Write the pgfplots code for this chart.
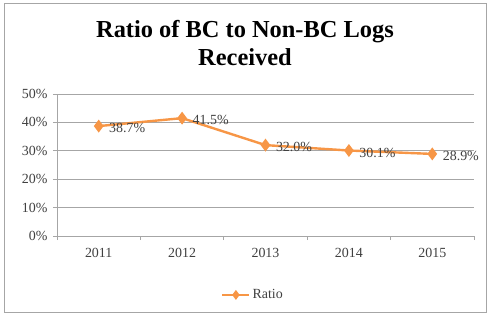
\documentclass[border=0pt]{standalone}
\usepackage{pgfplots}
\pgfplotsset{compat=1.18}
\usepackage{pgfplotstable}
\usepackage{fontspec}
\setmainfont{Liberation Serif}
\definecolor{ratio}{HTML}{F79646}
\definecolor{gridc}{HTML}{A6A6A6}
\definecolor{txt}{HTML}{404040}
\pgfplotstableread{
x y lab
0 38.7 38.7\%
1 41.5 41.5\%
2 32.0 32.0\%
3 30.1 30.1\%
4 28.9 28.9\%
}\ratiodata
\begin{document}
\begin{tikzpicture}
\path[use as bounding box] (-57bp,-80bp) rectangle (433bp,236bp);
\draw[gridc, line width=0.8bp] (-53bp,-76bp) rectangle (429bp,233bp);
\node[font=\fontsize{24.5}{28}\selectfont\bfseries, align=center, text=black] at (188bp,193bp) {Ratio of BC to Non-BC Logs\\Received};
\begin{axis}[
  at={(0,0)}, anchor=south west,
  scale only axis,
  width=417bp, height=142bp,
  xmin=-0.5, xmax=4.5, ymin=0, ymax=50,
  xtick={0,1,2,3,4},
  xticklabels={2011,2012,2013,2014,2015},
  minor xtick={-0.5,0.5,1.5,2.5,3.5,4.5},
  ytick={0,10,20,30,40,50},
  yticklabel={\pgfmathprintnumber{\tick}\%},
  /pgf/number format/assume math mode=true,
  axis lines*=left,
  axis line style={gridc, line width=0.8bp},
  ymajorgrids,
  grid style={gridc, line width=0.8bp},
  tick style={gridc, line width=0.8bp},
  major tick length=4bp, minor tick length=4bp,
  xtick style={draw=none},
  minor x tick style={gridc, line width=0.8bp, draw=gridc},
  tick align=outside,
  tick label style={font=\fontsize{14}{16}\selectfont, text=txt},
  xticklabel style={yshift=-5bp},
  yticklabel style={xshift=-2bp},
  clip=false,
  legend style={at={(0.47,-0.415)}, anchor=center, draw=none, fill=none,
    font=\fontsize{14}{16}\selectfont, text=txt},
  legend image code/.code={
    \draw[#1, mark=none] (0cm,0cm) -- (0.95cm,0cm);
    \draw[#1, only marks, mark size=3bp] plot coordinates {(0.475cm,0cm)};
  },
]
\addplot[color=ratio, line width=2.4bp, mark=diamond*, mark size=4.5bp, mark options={fill=ratio, draw=ratio},
  nodes near coords, point meta=explicit symbolic,
  every node near coord/.append style={anchor=west, xshift=6bp, yshift=-2bp, font=\fontsize{14}{16}\selectfont, text=txt}]
  table[x=x, y=y, meta=lab] {\ratiodata};
\addlegendentry{Ratio}
\end{axis}
\end{tikzpicture}
\end{document}
